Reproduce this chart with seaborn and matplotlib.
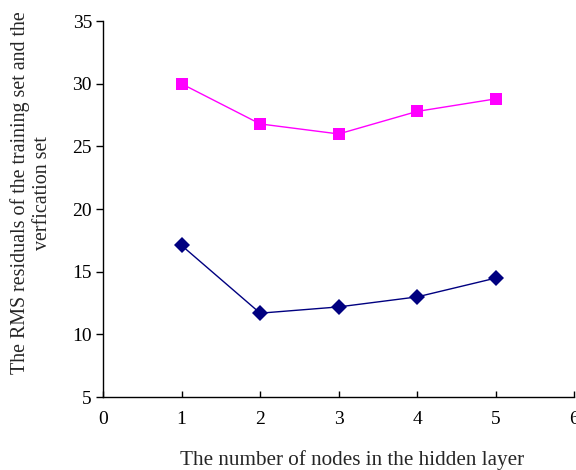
import matplotlib
matplotlib.use("Agg")
import matplotlib.pyplot as plt
import seaborn as sns
import pandas as pd

nodes = [1, 2, 3, 4, 5]
training = [17.1, 11.7, 12.2, 13.0, 14.5]
verification = [30.0, 26.8, 26.0, 27.8, 28.8]

df = pd.DataFrame({
    "nodes": nodes * 2,
    "rms": training + verification,
    "set": ["training"] * len(nodes) + ["verification"] * len(nodes),
})

sns.set_theme(style="ticks")
plt.rcParams["font.family"] = ["Liberation Serif", "DejaVu Serif"]

fig = plt.figure(figsize=(5.76, 4.70), dpi=100)
ax = fig.add_axes([0.179, 0.155, 0.818, 0.80])

sns.lineplot(data=df, x="nodes", y="rms", hue="set", style="set",
             palette={"training": "#000080", "verification": "#FF00FF"},
             markers={"training": "D", "verification": "s"},
             dashes=False, markersize=8, linewidth=1.0,
             markeredgewidth=0, legend=False, ax=ax)

ax.set_xlim(0, 6)
ax.set_ylim(5, 35)
ax.set_xticks(range(0, 7))
ax.set_yticks(range(5, 36, 5))
ax.tick_params(axis="x", direction="in", length=4, width=1, labelsize=14, pad=10, colors="black")
ax.tick_params(axis="y", direction="out", length=5, width=1, labelsize=14, pad=3, colors="black")
for s in ["top", "right"]:
    ax.spines[s].set_visible(False)
for s in ["left", "bottom"]:
    ax.spines[s].set_color("black")
    ax.spines[s].set_linewidth(1.0)

ax.set_xlabel("The number of nodes in the hidden layer", fontsize=15.2)
ax.set_ylabel("The RMS residuals of the training set and the\nverfication set", fontsize=14.4)
ax.xaxis.set_label_coords(0.529, -0.142)
ax.yaxis.set_label_coords(-0.108, 0.543)

fig.savefig("out.png", dpi=100)
